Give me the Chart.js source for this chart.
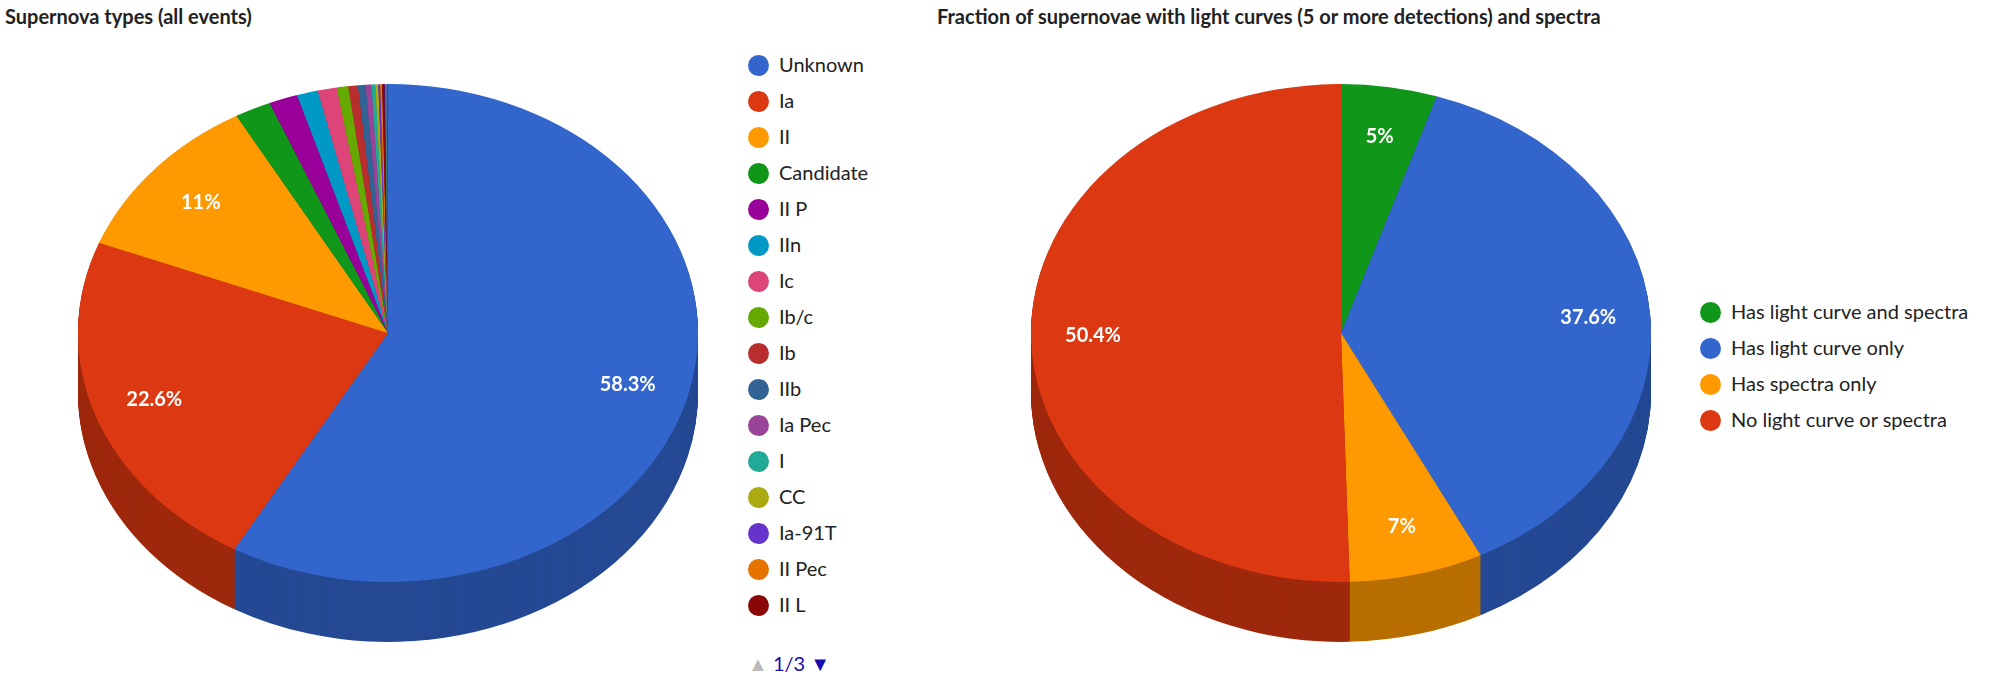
<!DOCTYPE html>
<html>
<head>
<meta charset="utf-8">
<script src="https://cdn.jsdelivr.net/npm/chart.js@4"></script>
<style>
  body { margin: 0; width: 2000px; height: 679px; background: #fff; font-family: Lato, "Noto Sans", sans-serif; position: relative; overflow: hidden; }
  .title { position: absolute; top: 4px; font-size: 20px; font-weight: bold; color: #222; }
  canvas { position: absolute; }
  .legend { position: absolute; font-size: 20px; color: #222; }
  .legend div { height: 36px; line-height: 36px; white-space: nowrap; }
  .legend span { display: inline-block; width: 21px; height: 21px; border-radius: 50%; vertical-align: -4px; margin-right: 10px; }
  .pager { position: absolute; left: 748px; top: 651px; font-size: 20px; color: #1a0dab; }
</style>
</head>
<body>
<div class="title" style="left:5px">Supernova types (all events)</div>
<div class="title" style="left:937px">Fraction of supernovae with light curves (5 or more detections) and spectra</div>
<canvas id="typesChart" width="620" height="620" style="left:78px;top:23px"></canvas>
<canvas id="lcChart" width="620" height="620" style="left:1031px;top:23px"></canvas>
<div class="legend" id="typesLegend" style="left:748px;top:46px"></div>
<div class="legend" id="lcLegend" style="left:1700px;top:293px"></div>
<div class="pager"><span style="color:#bbb">▲</span> 1/3 <span style="color:#1a0dab">▼</span></div>
<script>
(() => {
  'use strict';

  const palette = ['#3366cc', '#dc3912', '#ff9900', '#109618', '#990099', '#0099c6', '#dd4477', '#66aa00',
    '#b82e2e', '#316395', '#994499', '#22aa99', '#aaaa11', '#6633cc', '#e67300', '#8b0707',
    '#651067', '#329262', '#5574a6', '#3b3eac', '#b77322', '#16d620', '#b91383', '#f4359e'];

  const typeLabels = ['Unknown', 'Ia', 'II', 'Candidate', 'II P', 'IIn', 'Ic', 'Ib/c', 'Ib', 'IIb',
    'Ia Pec', 'I', 'CC', 'Ia-91T', 'II Pec', 'II L', 'Ic Pec', 'Ia-91bg', 'Ibn', 'Ic-BL'];
  const typeValues = [58.4, 22.7, 11, 1.9, 1.5, 1.1, 1.0, 0.6, 0.5, 0.4,
    0.3, 0.2, 0.15, 0.1, 0.1, 0.1, 0.05, 0.05, 0.05, 0.05];
  const typeLegendCount = 16;

  const lcLabels = ['Has light curve and spectra', 'Has light curve only', 'Has spectra only', 'No light curve or spectra'];
  const lcValues = [5, 37.6, 7, 50.5];
  const lcColors = ['#109618', '#3366cc', '#ff9900', '#dc3912'];

  const TILT = 0.803;
  const DEPTH = 60;

  function darken(hex, f) {
    const n = parseInt(hex.slice(1), 16);
    const r = Math.round(((n >> 16) & 255) * f), g = Math.round(((n >> 8) & 255) * f), b = Math.round((n & 255) * f);
    return `rgb(${r},${g},${b})`;
  }

  function fmtPct(v, total) {
    const p = v / total * 100;
    return (Math.round(p * 10) / 10).toString() + '%';
  }

  // squashes the pie into an ellipse and draws the extruded side under it
  const tiltPlugin = {
    id: 'tilt',
    beforeDatasetsDraw(chart) {
      const ctx = chart.ctx;
      const arcs = chart.getDatasetMeta(0).data;
      const { x: cx, y: cy } = arcs[0];
      for (let d = DEPTH; d >= 1; d--) {
        ctx.save();
        ctx.translate(cx, cy + d);
        ctx.scale(1, TILT);
        ctx.translate(-cx, -cy);
        arcs.forEach(arc => {
          const o = arc.options;
          arc.options = Object.assign({}, o, { backgroundColor: darken(o.backgroundColor, 0.72) });
          arc.draw(ctx);
          arc.options = o;
        });
        ctx.restore();
      }
      ctx.save();
      ctx.translate(cx, cy);
      ctx.scale(1, TILT);
      ctx.translate(-cx, -cy);
    },
    afterDatasetsDraw(chart) {
      const ctx = chart.ctx;
      ctx.restore();
      const arcs = chart.getDatasetMeta(0).data;
      const values = chart.data.datasets[0].data;
      const total = values.reduce((a, b) => a + b, 0);
      ctx.save();
      ctx.fillStyle = '#fff';
      ctx.font = 'bold 20px Lato, "Noto Sans", sans-serif';
      ctx.textAlign = 'center';
      ctx.textBaseline = 'middle';
      arcs.forEach((arc, i) => {
        if (values[i] / total < 0.045) return;
        const mid = (arc.startAngle + arc.endAngle) / 2;
        const r = arc.outerRadius * 0.8;
        ctx.fillText(fmtPct(values[i], total), arc.x + Math.cos(mid) * r, arc.y + Math.sin(mid) * r * TILT);
      });
      ctx.restore();
    }
  };

  function makePie(id, labels, values, colors) {
    return new Chart(document.getElementById(id), {
      type: 'pie',
      data: { labels, datasets: [{ data: values, backgroundColor: colors, borderWidth: 0, hoverOffset: 0 }] },
      options: {
        responsive: false,
        devicePixelRatio: 1,
        animation: false,
        events: [],
        layout: { padding: 0 },
        plugins: { legend: { display: false }, tooltip: { enabled: false } }
      },
      plugins: [tiltPlugin]
    });
  }

  function makeLegend(id, labels, colors) {
    document.getElementById(id).innerHTML = labels.map((l, i) =>
      `<div><span style="background:${colors[i]}"></span>${l}</div>`).join('');
  }

  const typeColors = typeLabels.map((_, i) => palette[i % palette.length]);
  makePie('typesChart', typeLabels, typeValues, typeColors);
  makePie('lcChart', lcLabels, lcValues, lcColors);
  makeLegend('typesLegend', typeLabels.slice(0, typeLegendCount), typeColors);
  makeLegend('lcLegend', lcLabels, lcColors);
})();
</script>
</body>
</html>
